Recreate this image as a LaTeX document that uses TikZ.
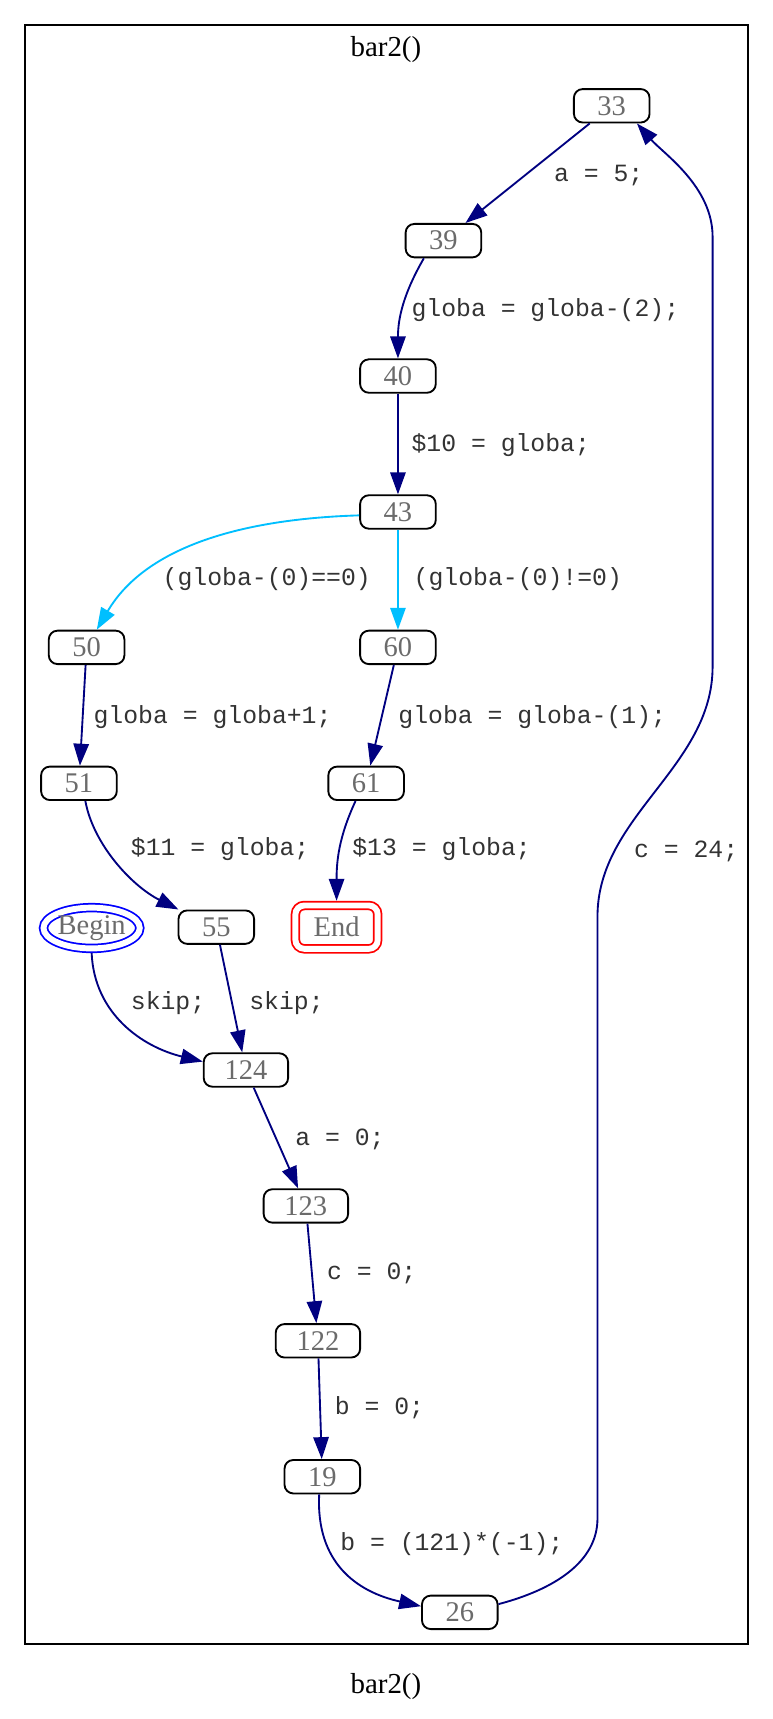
\documentclass[tikz,border=0pt]{standalone}
\usepackage{fontspec}
\setmainfont{Liberation Serif}
\setmonofont{Liberation Mono}
\usetikzlibrary{arrows.meta,shapes.geometric}
\definecolor{flowblue}{HTML}{000080}
\definecolor{condblue}{HTML}{00BFFF}
\definecolor{numgray}{HTML}{6B6B6B}
\tikzset{blk/.style={draw=black,line width=0.85pt,rounded corners=4pt,minimum width=34.5pt,minimum height=15.25pt,inner xsep=9.5pt,inner ysep=0pt,text=numgray,font=\fontsize{13}{14}\selectfont},startblk/.style={blk,ellipse,sharp corners,draw=blue,double=white,double distance=2.7pt,line width=0.8pt,minimum width=42pt,minimum height=18.6pt,inner sep=0pt,outer sep=2.15pt},endblk/.style={blk,draw=red,double=white,double distance=2.7pt,line width=0.8pt,minimum width=37.5pt,minimum height=19.75pt,inner sep=0pt,outer sep=2.15pt},flow/.style={-{Triangle[length=10pt,width=7pt]},draw=flowblue,line width=0.85pt},cond/.style={flow,draw=condblue},lab/.style={anchor=west,inner sep=0pt,text height=7.5pt,text depth=2pt,text=black!80,font=\ttfamily\fontsize{11.3}{12}\selectfont},ttl/.style={font=\fontsize{13.2}{14}\selectfont}}

\begin{document}
\begin{tikzpicture}[x=0.5pt,y=0.5pt]
\useasboundingbox (0,0) rectangle (705,-1568);
\draw[line width=0.9pt] (23,-23) rectangle (682,-1500);
\node[ttl] (ttltop) at (352,-45.5) {bar2()};
\node[ttl] (ttlbot) at (352,-1538) {bar2()};
% blocks
\node[blk] (n33) at (558,-96.5) {33};
\node[blk] (n39) at (404.5,-219.5) {39};
\node[blk] (n40) at (363,-343) {40};
\node[blk] (n43) at (363,-467) {43};
\node[blk] (n50) at (79,-590.5) {50};
\node[blk] (n60) at (363,-590.5) {60};
\node[blk] (n51) at (72,-714.5) {51};
\node[blk] (n61) at (334,-714.5) {61};
\node[startblk] (nbegin) at (83.6,-846.5) {Begin};
\node[blk] (n55) at (197.3,-845.7) {55};
\node[endblk] (nend) at (307,-845.7) {End};
\node[blk] (n124) at (224.3,-976) {124};
\node[blk] (n123) at (279,-1100) {123};
\node[blk] (n122) at (290,-1223) {122};
\node[blk] (n19) at (294,-1347) {19};
\node[blk] (n26) at (419.4,-1470.7) {26};
% edges
\foreach \a/\b in {n33/n39,n40/n43,n50/n51,n60/n61,n55/n124,n124/n123,n123/n122,n122/n19}{\draw[flow](\a)--(\b);}
\draw[flow] (n39.-138) to[out=-120,in=90] (n40);
\draw[cond] (n43.185) .. controls (230,-473) and (135,-495) .. (n50.60);
\draw[cond] (n43) -- (n60);
\draw[flow] (n51.-70) .. controls (85,-770) and (120,-808) .. (n55.155);
\draw[flow] (n61.-121) to[out=-115,in=90] (nend);
\draw[flow] (nbegin.south) .. controls (86,-925) and (130,-955) .. (n124.169);
\draw[flow] (n19.-100) .. controls (288,-1425) and (325,-1452) .. (n26.171);
\draw[flow] (n26.12) .. controls (505,-1450) and (545,-1425) .. (545,-1385) -- (545,-836) .. controls (545,-744) and (650,-700) .. (650,-608) -- (650,-216) .. controls (650,-170) and (605,-140) .. (n33.-35);
% labels
\node[lab] (l33) at (505,-160) {a = 5;};
\node[lab] (l39) at (375,-283) {globa = globa-(2);};
\node[lab] (l40) at (375,-406) {\$10 = globa;};
\node[lab] (l43a) at (148,-529) {(globa-(0)==0)};
\node[lab] (l43b) at (377,-529) {(globa-(0)!=0)};
\node[lab] (l50) at (85,-654) {globa = globa+1;};
\node[lab] (l60) at (363,-654) {globa = globa-(1);};
\node[lab] (l51) at (119,-775) {\$11 = globa;};
\node[lab] (l61) at (321,-775) {\$13 = globa;};
\node[lab] (l26) at (578,-777) {c = 24;};
\node[lab] (lbegin) at (119,-915) {skip;};
\node[lab] (l55) at (227,-915) {skip;};
\node[lab] (l124) at (269,-1039) {a = 0;};
\node[lab] (l123) at (298,-1162) {c = 0;};
\node[lab] (l122) at (305,-1285) {b = 0;};
\node[lab] (l19) at (310,-1409) {b = (121)*(-1);};
\end{tikzpicture}
\end{document}
